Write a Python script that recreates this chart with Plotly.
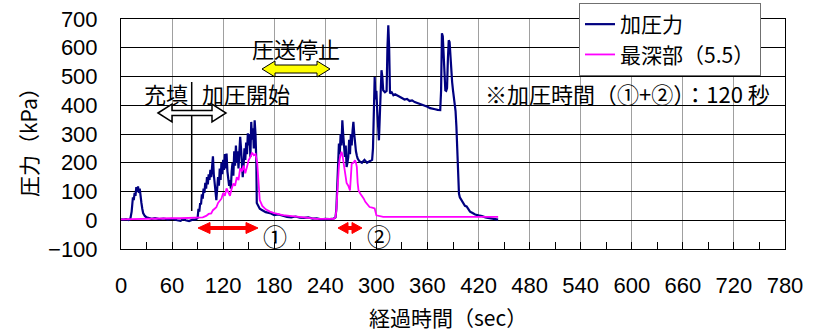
import plotly.graph_objects as go

# ---- data ----
t_press = [0, 3, 6, 9, 11, 12.5, 14, 15, 16, 17, 18, 19, 20, 21, 22, 23, 24, 25, 26, 28, 30, 33, 36, 40, 45, 50, 55, 60, 63, 66, 70, 73, 76, 80, 84, 88,
           90, 91, 92, 93, 94, 95, 96, 97, 98, 99, 100, 101, 102, 103, 104, 105, 106, 107, 108, 109, 110, 111, 112, 113, 114, 115, 116, 117, 118, 119,
           120, 121, 122, 123, 124, 125, 126, 127, 128, 129, 130, 131, 132, 133, 134, 135, 136, 137, 138, 139, 140, 141, 142, 143, 144, 145, 146, 147,
           148, 149, 150, 151, 152, 153, 154, 155, 156, 157, 158, 159, 159.5, 161, 163, 166, 170, 175, 180, 185, 190, 195, 200, 205, 210, 215, 220,
           225, 230, 235, 240, 245, 250, 252, 253, 254, 255, 256, 257, 258, 259, 260, 261, 262, 263, 264, 265, 266, 267, 268, 269, 270, 271, 272, 273,
           274, 275, 276, 277, 278, 280, 283, 286, 289, 292, 295, 296, 297, 298, 299, 300, 301, 302, 303, 304, 305, 306, 307, 308, 310, 312, 313, 314,
           315, 316, 318, 320, 322, 325, 328, 330, 333, 336, 339, 342, 345, 348, 351, 354, 357, 360, 363, 366, 369, 372, 375, 376, 377, 378, 379, 380,
           381, 382, 383, 384, 385, 386, 387, 388, 389, 390, 391, 392, 393, 394, 395, 396, 397, 398, 400, 402, 404, 406, 408, 410, 413, 416, 420, 424,
           428, 432, 436, 440, 443]
v_press = [3, 2, 4, 1, 5, 30, 80, 70, 95, 85, 115, 100, 118, 95, 110, 70, 60, 40, 25, 15, 10, 8, 5, 7, 4, 6, 3, 5, 2, 0, -2, 4, 0, -3, 2, 3,
           8, 40, 30, 60, 55, 90, 75, 110, 95, 130, 110, 150, 125, 160, 140, 175, 150, 190, 222, 160, 130, 100, 70, 110, 150, 120, 180, 140, 200, 160,
           210, 175, 230, 180, 232, 170, 150, 120, 140, 110, 170, 200, 155, 240, 190, 260, 200, 240, 180, 220, 290, 250, 200, 150, 190, 250, 210, 270,
           230, 302, 260, 300, 220, 342, 280, 320, 250, 348, 300, 200, 60, 50, 40, 35, 28, 25, 18, 20, 15, 12, 10, 13, 9, 8, 10,
           6, 7, 3, 5, 4, 6, 10, 40, 100, 200, 267, 230, 300, 260, 348, 300, 250, 220, 260, 185, 200, 220, 280, 230, 300, 260, 310, 342,
           300, 260, 240, 225, 215, 205, 200, 210, 200, 205, 210, 250, 372, 498, 420, 450, 380, 330, 278, 360, 480, 522, 500, 452, 445, 450, 600, 678,
           600, 441, 445, 435, 438, 432, 429, 425, 420, 422, 415, 417, 411, 408, 405, 400, 398, 395, 390, 389, 386, 384, 383, 450, 650, 640, 560, 470,
           452, 450, 460, 560, 626, 620, 560, 520, 480, 452, 430, 406, 380, 325, 250, 150, 93, 80, 70, 64, 50, 48, 40, 30, 25, 20, 17, 15,
           10, 8, 5, 3, 2]

t_deep = [0, 10, 20, 30, 40, 50, 60, 70, 80, 88, 92, 96, 100, 103, 106, 108, 110, 112, 114, 116, 118, 120, 122, 124, 126, 128, 130, 132, 134,
          136, 138, 140, 142, 144, 146, 148, 150, 152, 154, 156, 158, 160, 161, 162, 163, 166, 170, 175, 180, 190, 200, 210, 220, 230, 240, 250,
          252, 253, 254, 255, 256, 257, 258, 259, 260, 261, 262, 263, 265, 267, 269, 270, 271, 273, 275, 276, 277, 278, 279, 281, 283, 285, 287,
          290, 292, 295, 298, 300, 304, 308, 320, 340, 360, 380, 400, 420, 440, 443]
v_deep = [3, 4, 5, 6, 7, 7, 7, 7, 8, 8, 8, 10, 15, 22, 24, 35, 40, 45, 60, 70, 75, 95, 85, 111, 100, 85, 110, 128, 120,
          150, 140, 181, 170, 190, 163, 185, 209, 220, 235, 226, 230, 200, 151, 100, 70, 50, 38, 30, 25, 18, 14, 10, 8, 5, 4, 5,
          10, 35, 90, 162, 190, 215, 225, 238, 230, 210, 190, 174, 130, 120, 104, 150, 197, 200, 209, 200, 186, 130, 104, 93, 85, 76, 64,
          55, 46, 44, 41, 17, 14, 12, 12, 12, 12, 12, 12, 12, 12, 12]

series_names = ["加圧力", "最深部（5.5）"]
x_ticks = list(range(0, 781, 60))
y_ticks = list(range(-100, 701, 100))

# ---- geometry helpers (plot area in pixels) ----
W, H = 819, 334
L, R, T, B = 121, 785, 19, 249
XMIN, XMAX, YMIN, YMAX = 0, 780, -100, 700


def px_x(px):
    return XMIN + (px - L) * (XMAX - XMIN) / (R - L)


def px_y(py):
    return YMAX - (py - T) * (YMAX - YMIN) / (B - T)


def double_arrow(x0, x1, yc, hl, hh, sh):
    pts = [(x0, yc), (x0 + hl, yc - hh), (x0 + hl, yc - sh), (x1 - hl, yc - sh), (x1 - hl, yc - hh),
           (x1, yc), (x1 - hl, yc + hh), (x1 - hl, yc + sh), (x0 + hl, yc + sh), (x0 + hl, yc + hh)]
    return "M " + " L ".join(f"{px_x(a):.3f},{px_y(b):.3f}" for a, b in pts) + " Z"


fig = go.Figure()
fig.add_trace(go.Scatter(x=t_press, y=v_press, mode="lines", name=series_names[0],
                         line=dict(color="#000080", width=2.2)))
fig.add_trace(go.Scatter(x=t_deep, y=v_deep, mode="lines", name=series_names[1],
                         line=dict(color="#FF00FF", width=1.8)))

cjk = "Noto Sans CJK JP"
num_font = dict(family="Liberation Sans, Arial", size=22, color="black")

shapes = [
    dict(type="line", xref="x", yref="y", x0=px_x(191.7), x1=px_x(191.7), y0=px_y(82), y1=px_y(211),
         line=dict(color="black", width=1.5)),
    dict(type="path", xref="x", yref="y", path=double_arrow(158, 226, 113, 14, 9, 2.5),
         fillcolor="white", line=dict(color="black", width=1.5)),
    dict(type="path", xref="x", yref="y", path=double_arrow(262, 330, 69, 13, 8, 4),
         fillcolor="#FFFF00", line=dict(color="black", width=1)),
    dict(type="path", xref="x", yref="y", path=double_arrow(198, 258, 228, 12, 5.5, 1.5),
         fillcolor="#FF0000", line=dict(color="#FF0000", width=1)),
    dict(type="path", xref="x", yref="y", path=double_arrow(338, 362, 228, 10, 5.5, 1.5),
         fillcolor="#FF0000", line=dict(color="#FF0000", width=1)),
]


def ann(text, px, py, size=22, xanchor="center"):
    return dict(text=text, xref="x", yref="y", x=px_x(px), y=px_y(py), showarrow=False,
                xanchor=xanchor, yanchor="middle", font=dict(family=cjk, size=size, color="black"))


annotations = [
    ann("充填", 165.5, 93),
    ann("加圧開始", 246, 93),
    ann("圧送停止", 296, 48),
    ann("※加圧時間（①+②）：120 秒", 483, 93, size=22, xanchor="left"),
    ann("①", 275, 235, size=24),
    ann("②", 379, 235, size=24),
    dict(text="圧力（kPa）", xref="paper", yref="paper", x=(28 - L) / (R - L), y=(B - 137) / (B - T),
         showarrow=False, textangle=-90, xanchor="center", yanchor="middle",
         font=dict(family=cjk, size=21, color="black")),
    dict(text="経過時間（sec）", xref="paper", yref="paper", x=(448 - L) / (R - L), y=-(317 - B) / (B - T),
         showarrow=False, xanchor="center", yanchor="middle",
         font=dict(family=cjk, size=21, color="black")),
]

fig.update_layout(
    width=W, height=H,
    margin=dict(l=L, r=W - R, t=T, b=H - B, pad=0, autoexpand=False),
    paper_bgcolor="white", plot_bgcolor="white",
    showlegend=True,
    legend=dict(x=(579 - L) / (R - L), y=1 + (T - 3) / (B - T), xanchor="left", yanchor="top",
                bgcolor="white", bordercolor="#707070", borderwidth=1,
                font=dict(family=cjk, size=21, color="black"), tracegroupgap=0),
    shapes=shapes,
    annotations=annotations,
)

fig.update_xaxes(range=[XMIN, XMAX], tickvals=x_ticks, ticktext=[str(v) for v in x_ticks],
                 showgrid=True, gridcolor="#A0A0A0", gridwidth=1,
                 showline=True, linecolor="black", linewidth=1, mirror=True,
                 ticks="inside", ticklen=7, tickcolor="black",
                 minor=dict(dtick=30, tick0=0, ticks="inside", ticklen=7, tickcolor="black", showgrid=False),
                 zeroline=False, tickfont=num_font, ticklabelstandoff=17)
fig.update_yaxes(range=[YMIN, YMAX], tickvals=y_ticks, ticktext=[str(v).replace("-", "\u2212") for v in y_ticks],
                 showgrid=True, gridcolor="black", gridwidth=1,
                 showline=True, linecolor="black", linewidth=1, mirror=True,
                 zeroline=True, zerolinecolor="black", zerolinewidth=1,
                 ticks="", tickfont=num_font, ticklabelstandoff=18)

fig.write_html("out.html", config={"displayModeBar": False},
               post_script="document.body.style.margin='0';document.body.style.overflow='hidden';")
